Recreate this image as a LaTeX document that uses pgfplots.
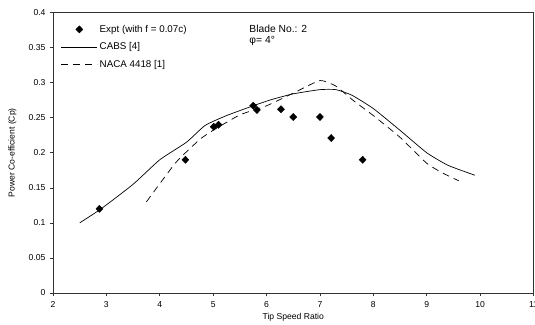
\documentclass[border=0pt]{standalone}
\usepackage{fontspec}
\setmainfont{Liberation Sans}
\usepackage{pgfplots}
\pgfplotsset{compat=1.18}
\pgfplotsset{
  mylineleg/.style={legend image code/.code={\draw[##1] (0bp,0bp) -- (36bp,0bp);}},
  mymarkleg/.style={legend image code/.code={\draw[##1] plot coordinates {(18bp,0bp)};}},
}
\begin{document}
\begin{tikzpicture}
\begin{axis}[
  scale only axis,
  width=480.5bp, height=280.5bp,
  xmin=2, xmax=11, ymin=0, ymax=0.4,
  xtick={2,3,4,5,6,7,8,9,10,11},
  ytick={0,0.05,0.1,0.15,0.2,0.25,0.3,0.35,0.4},
  yticklabels={0,0.05,0.1,0.15,0.2,0.25,0.3,0.35,0.4},
  tick align=outside,
  major tick length=3bp,
  xtick pos=left, ytick pos=left,
  axis line style={black!80, line width=0.8bp},
  tick style={black!80, line width=0.6bp},
  /pgf/number format/assume math mode=true,
  tick label style={font=\fontsize{8.6bp}{10bp}\selectfont},
  xticklabel style={yshift=-2bp},
  yticklabel style={xshift=-1bp},
  xlabel={Tip Speed Ratio},
  ylabel={Power Co-efficient (Cp)},
  label style={font=\fontsize{8.6bp}{10bp}\selectfont},
  xlabel style={at={(axis description cs:0.5,0)}, anchor=north, yshift=-17bp},
  ylabel style={at={(axis description cs:0,0.5)}, anchor=south, yshift=33bp},
  legend style={draw=none, fill=none, at={(rel axis cs:0.01,0.97)}, anchor=north west,
    font=\fontsize{9.8bp}{11bp}\selectfont, row sep=5bp,
    /tikz/every even column/.append style={column sep=2bp}},
  legend cell align=left,
  mylineleg,
]
\addplot[only marks, mark=diamond*, mark size=3.6bp, mark options={xscale=1.3}, black, mymarkleg]
  coordinates {(2.87,0.12) (4.48,0.19) (5.01,0.237) (5.1,0.24) (5.75,0.267) (5.82,0.261)
  (6.27,0.262) (6.5,0.251) (7.0,0.251) (7.21,0.221) (7.8,0.19)};
\addlegendentry{Expt (with f = 0.07c)}
\addplot[black, line width=0.7bp, smooth, tension=0.3] coordinates {
 (2.5,0.1) (2.9,0.12) (3.5,0.155) (4,0.19) (4.5,0.215) (4.85,0.239) (5.25,0.253)
 (5.75,0.267) (6.1,0.276) (6.5,0.284) (7,0.29) (7.3,0.29) (7.6,0.282) (8,0.263)
 (8.5,0.232) (9,0.2) (9.4,0.182) (9.9,0.168)};
\addlegendentry{CABS [4]}
\addplot[black, line width=0.7bp, dash pattern=on 7bp off 5bp, smooth, tension=0.3] coordinates {
 (3.75,0.13) (4.3,0.186) (4.75,0.219) (5,0.232) (5.5,0.254) (6,0.267) (6.5,0.285)
 (7,0.303) (7.3,0.295) (7.6,0.276) (8,0.253) (8.5,0.222) (9,0.185) (9.3,0.171) (9.6,0.16)};
\addlegendentry{NACA 4418 [1]}
\node[anchor=base west, inner sep=0pt, align=left, font=\fontsize{10.3bp}{11bp}\selectfont]
  at (rel axis cs:0.4085,0.890) {Blade No.: 2\\φ= 4°};
\end{axis}
\pgfresetboundingbox
\path ([xshift=-53bp,yshift=-32bp]current axis.south west) rectangle ([xshift=1.5bp,yshift=12.5bp]current axis.north east);
\end{tikzpicture}
\end{document}
